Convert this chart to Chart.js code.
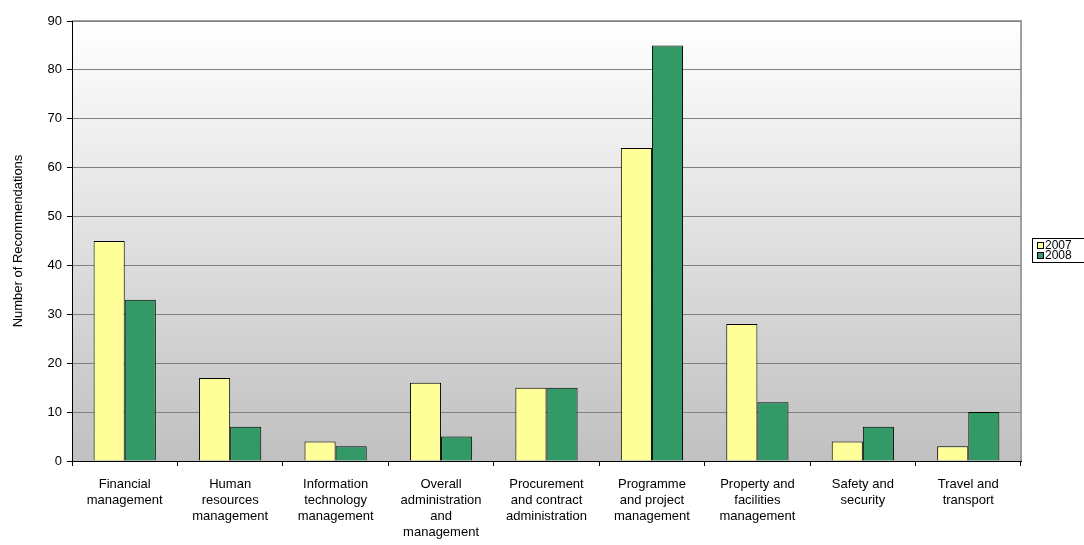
<!DOCTYPE html>
<html>
<head>
<meta charset="utf-8">
<script src="https://cdn.jsdelivr.net/npm/chart.js@4"></script>
<style>
  html, body { margin: 0; padding: 0; background: #fff; overflow: hidden; }
  canvas { display: block; }
</style>
</head>
<body>
<canvas id="grafica" width="1084" height="545"></canvas>
<script>
const categories = [
    ["Financial", "management"],
    ["Human", "resources", "management"],
    ["Information", "technology", "management"],
    ["Overall", "administration", "and", "management"],
    ["Procurement", "and contract", "administration"],
    ["Programme", "and project", "management"],
    ["Property and", "facilities", "management"],
    ["Safety and", "security"],
    ["Travel and", "transport"]
];
const values2007 = [45, 17, 4, 16, 15, 64, 28, 4, 3];
const values2008 = [33, 7, 3, 5, 15, 85, 12, 7, 10];
const seriesNames = ["2007", "2008"];

const fontFamily = "'Liberation Sans', Arial, sans-serif";

// gradient background + border of plot area
const plotArea = {
    id: 'plotArea',
    beforeDraw(chart) {
        const { ctx, chartArea: a } = chart;
        ctx.save();
        const g = ctx.createLinearGradient(0, a.top, 0, a.bottom);
        g.addColorStop(0, '#ffffff');
        g.addColorStop(1, '#c0c0c0');
        ctx.fillStyle = g;
        ctx.fillRect(a.left, a.top, a.right - a.left, a.bottom - a.top);
        ctx.strokeStyle = '#a0a0a0';
        ctx.lineWidth = 2;
        ctx.beginPath();
        ctx.moveTo(a.left, a.top);
        ctx.lineTo(a.right, a.top);
        ctx.lineTo(a.right, a.bottom);
        ctx.stroke();
        ctx.restore();
    }
};

// boxed legend at right, like the original (clipped by the window)
const boxLegend = {
    id: 'boxLegend',
    afterDraw(chart) {
        const ctx = chart.ctx;
        const x = 1032, y = 238, w = 70, h = 24;
        ctx.save();
        ctx.fillStyle = '#ffffff';
        ctx.fillRect(x, y, w, h);
        ctx.strokeStyle = '#000';
        ctx.lineWidth = 1;
        ctx.strokeRect(x + 0.5, y + 0.5, w, h);
        ctx.font = '12px ' + fontFamily;
        ctx.textBaseline = 'middle';
        chart.data.datasets.forEach((ds, i) => {
            const cy = y + 7 + i * 10;
            ctx.fillStyle = ds.backgroundColor;
            ctx.fillRect(x + 5, cy - 3, 6, 6);
            ctx.strokeStyle = '#000';
            ctx.strokeRect(x + 5.5, cy - 2.5, 6, 6);
            ctx.fillStyle = '#000';
            ctx.fillText(ds.label, x + 13, cy + 1);
        });
        ctx.restore();
    }
};

new Chart(document.getElementById('grafica').getContext('2d'), {
    type: 'bar',
    data: {
        labels: categories,
        datasets: [
            { label: seriesNames[0], data: values2007, backgroundColor: '#ffff99', borderColor: '#000', borderWidth: 1 },
            { label: seriesNames[1], data: values2008, backgroundColor: '#339966', borderColor: '#000', borderWidth: 1 }
        ]
    },
    options: {
        responsive: false,
        animation: false,
        layout: { padding: { top: 21, right: 63, left: 11, bottom: 0 } },
        datasets: { bar: { barPercentage: 1.0, categoryPercentage: 0.59 } },
        plugins: {
            legend: { display: false },
            tooltip: { enabled: false }
        },
        scales: {
            x: {
                grid: { offset: true, drawOnChartArea: false, drawTicks: true, tickLength: 5, color: '#000' },
                border: { color: '#000', width: 1 },
                ticks: {
                    autoSkip: false, maxRotation: 0, minRotation: 0, padding: 10,
                    color: '#000', font: { family: fontFamily, size: 13, lineHeight: 1.23 }
                },
                afterFit(scale) { scale.height = 545 - 461; }
            },
            y: {
                min: 0, max: 90,
                ticks: { stepSize: 10, padding: 5, color: '#000', font: { family: fontFamily, size: 13 } },
                grid: { color: '#808080', tickColor: '#000', tickLength: 5 },
                border: { color: '#000', width: 1 },
                title: {
                    display: true, text: 'Number of Recommendations', color: '#000',
                    font: { family: fontFamily, size: 13 }, padding: { top: 0, bottom: 6 }
                },
                afterFit(scale) { scale.width = 61; }
            }
        }
    },
    plugins: [plotArea, boxLegend]
});
</script>
</body>
</html>
